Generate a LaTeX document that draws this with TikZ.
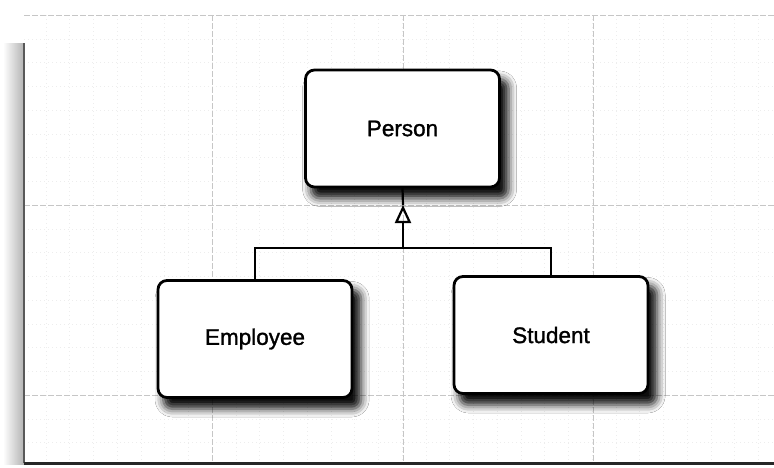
\documentclass[tikz,border=0pt]{standalone}
\usepackage{fontspec}
\setmainfont{Liberation Sans}
\newfontfamily\boxfont[FakeBold=1.3]{Liberation Sans}
\usetikzlibrary{shadows.blur,arrows.meta,calc}
\tikzset{
  classbox/.style={draw=black, line width=2.8pt, rounded corners=9pt, fill=white,
    minimum width=194pt, minimum height=117pt, inner sep=0pt,
    font=\boxfont\fontsize{22.5}{27}\selectfont,
    blur shadow={shadow xshift=7pt, shadow yshift=-10pt, shadow blur radius=8pt,
      shadow opacity=95, shadow scale=1.02}},
  link/.style={line width=2.2pt, black},
  majorgrid/.style={gray!45, line width=0.6pt, dash pattern=on 6pt off 2pt},
  minorgrid/.style={gray!14, line width=0.5pt, dash pattern=on 0.8pt off 3.2pt},
}
\begin{document}
\begin{tikzpicture}[x=1pt,y=-1pt]
\useasboundingbox (0,0) rectangle (774,467);
\fill[white] (0,0) rectangle (774,467);
% minor grid
\foreach \i in {1,...,32} {
  \draw[minorgrid] ({22+23.75*\i},15) -- ({22+23.75*\i},463);
}
\foreach \j in {1,...,18} {
  \draw[minorgrid] (24,{15+23.75*\j}) -- (774,{15+23.75*\j});
}
% major grid
\foreach \x in {212,403,593} { \draw[majorgrid] (\x,15) -- (\x,463); }
\foreach \y in {15,205,395} { \draw[majorgrid] (24,\y) -- (774,\y); }
% page frame
\shade[left color=white, right color=gray!60] (3,43) rectangle (24,464);
\draw[gray!70!black, line width=1.5pt] (24,43) -- (24,463);
\draw[black!85, line width=3pt] (24,463) -- (774,463);

% classes
\node[classbox] (Person)   at (402.5,128.5) {Person};
\node[classbox] (Employee) at (255,339) {Employee};
\node[classbox] (Student)  at (551,335) {Student};

% inheritance connectors
\coordinate (hub) at (403,248);
\coordinate (tip) at (403,205);
\draw[link] (Employee.north) |- (hub) -| (Student.north);
\draw[link] (Person.south) -- (tip);
\draw[link, -{Triangle[open, width=16pt, length=18pt, line width=2.2pt]}] (hub) -- (tip);
\end{tikzpicture}
\end{document}
